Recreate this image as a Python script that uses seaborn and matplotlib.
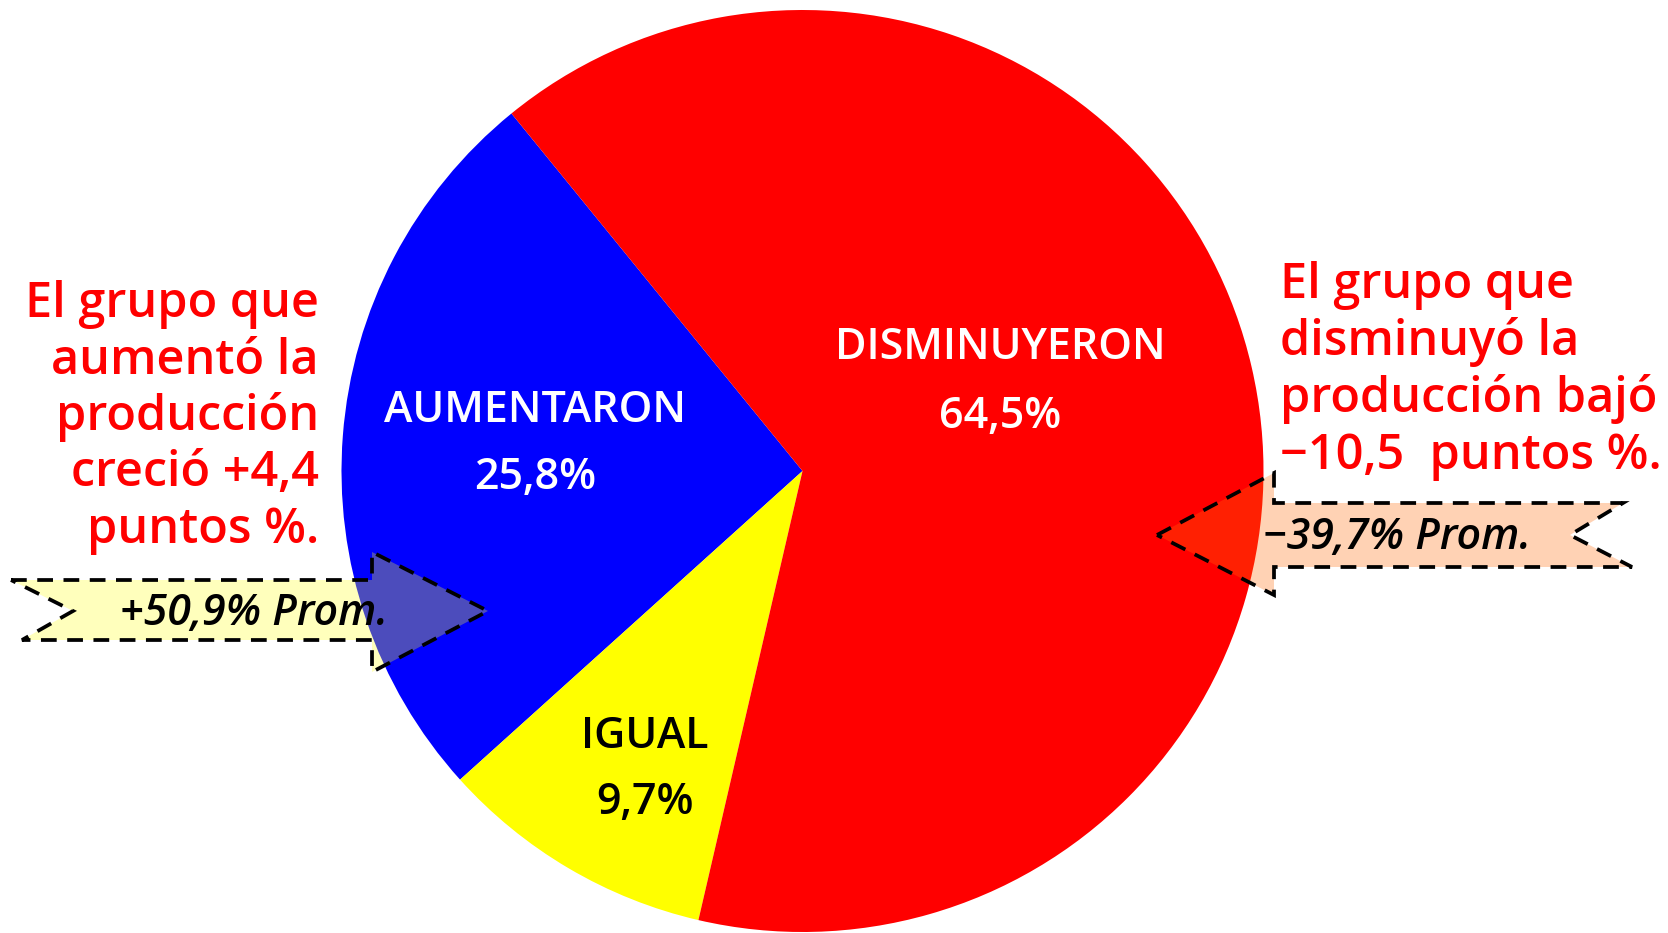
import matplotlib
matplotlib.use("Agg")
import matplotlib.pyplot as plt
from matplotlib.patches import Polygon
import seaborn as sns

# data
groups = ["AUMENTARON", "IGUAL", "DISMINUYERON"]
shares = [25.8, 9.7, 64.5]
share_labels = ["25,8%", "9,7%", "64,5%"]
slice_colors = ["#0000FF", "#FFFF00", "#FF0000"]
label_colors = ["white", "black", "white"]

left_note = ["El grupo que", "aumentó la", "producción", "creció +4,4", "puntos %."]
right_note = ["El grupo que", "disminuyó la", "producción bajó", "\u221210,5  puntos %."]
up_avg = "+50,9% Prom."
down_avg = "\u221239,7% Prom."

W, H = 1668, 933


def py(y):
    # pixel row (top = 0) -> data y
    return H - y


sns.set_theme(style="white")
plt.rcParams['font.family'] = ['Open Sans', 'DejaVu Sans']

fig = plt.figure(figsize=(W / 100, H / 100), dpi=100)
ax = fig.add_axes([0, 0, 1, 1])

ax.pie(shares, colors=sns.color_palette(slice_colors), startangle=129.15,
       counterclock=True, center=(802.5, py(471)), radius=461,
       wedgeprops=dict(linewidth=0))
ax.set_xlim(0, W)
ax.set_ylim(0, H)
ax.set_aspect('equal')
ax.axis('off')

# slice labels (x, baseline of name, baseline of percent)
label_pos = [(535, 422, 489), (645, 748, 814), (1000, 359, 428)]
for name, pct, col, (x, b1, b2) in zip(groups, share_labels, label_colors, label_pos):
    ax.text(x, py(b1), name, color=col, fontsize=31, fontweight='semibold',
            ha='center', va='baseline', zorder=5)
    ax.text(x, py(b2), pct, color=col, fontsize=31, fontweight='semibold',
            ha='center', va='baseline', zorder=5)

# notched arrows
left_arrow = [(11, 580), (372, 580), (372, 552), (488, 611), (372, 672),
              (372, 640), (22, 640), (73, 611)]
right_arrow = [(1157, 535), (1274, 473), (1274, 503), (1623, 503), (1570, 535),
               (1632, 567), (1274, 567), (1274, 595)]
dash = (0, (4.2, 2.8))
ax.add_patch(Polygon([(x, py(y)) for x, y in left_arrow], closed=True,
                     facecolor=(1, 1, 0.13, 0.3), edgecolor='black',
                     linewidth=2.7, linestyle=dash, zorder=3))
ax.add_patch(Polygon([(x, py(y)) for x, y in right_arrow], closed=True,
                     facecolor=(1, 0.42, 0.03, 0.3), edgecolor='black',
                     linewidth=2.7, linestyle=dash, zorder=3))

ax.text(254, py(625), up_avg, fontsize=31, style='italic', fontweight='semibold',
        color='black', ha='center', va='baseline', zorder=5)
ax.text(1397, py(549), down_avg, fontsize=31, style='italic', fontweight='semibold',
        color='black', ha='center', va='baseline', zorder=5)

# red side notes
for i, line in enumerate(left_note):
    ax.text(319, py(317 + i * 56.5), line, color='#FF0000', fontsize=35,
            fontweight='semibold', ha='right', va='baseline', zorder=5)
for i, line in enumerate(right_note):
    ax.text(1280, py(298 + i * 57), line, color='#FF0000', fontsize=35,
            fontweight='semibold', ha='left', va='baseline', zorder=5)

fig.savefig('out.png', dpi=100)
plt.close()
